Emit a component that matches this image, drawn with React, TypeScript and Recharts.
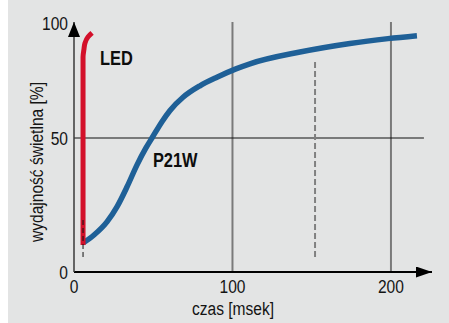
import React from "react";
import {
  LineChart,
  Line,
  XAxis,
  YAxis,
  ReferenceLine,
  ReferenceDot,
  Label,
} from "recharts";

// ---- data ----
const xTicks = [0, 100, 200];
const yTicks = [0, 50];
const yTopTickLabel = "100";
const xTitle = "czas [msek]";
const yTitle = "wydajność świetlna [%]";

const ledTime = [5.7, 5.7, 6.3, 6.9, 8.8, 11.4];
const ledEff = [10.1, 80.2, 83.2, 85.4, 87.7, 89.2];

const p21wTime = [
  5.7, 12.6, 20.8, 27.1, 33.4, 39.7, 45.4, 49.2, 55.5, 60.6, 68.8, 79.5, 90.2,
  102.2, 111.0, 142.6, 174.1, 198.1, 216.4,
];
const p21wEff = [
  10.8, 13.8, 18.7, 24.3, 31.7, 39.9, 46.3, 50.0, 56.1, 60.3, 65.2, 69.5, 72.7,
  75.8, 77.7, 82.1, 85.3, 87.1, 88.2,
];

const startMarkTime = [5.7, 5.7];
const startMarkEff = [5.6, 19.4];
const midMarkTime = [152.1, 152.1];
const midMarkEff = [5.6, 79.1];

const gridTimes = [100, 200];
const halfLevel = 50;
const halfLineEnd = 220.8;
const xMax = 225.9;
const yMax = 93.3;

const ledLabel = { t: 16.4, e: 79.9, text: "LED" };
const p21wLabel = { t: 49.8, e: 41.8, text: "P21W" };

const toRows = (ts: number[], es: number[]) =>
  ts.map((t, i) => ({ t, e: es[i] }));

const ledData = toRows(ledTime, ledEff);
const p21wData = toRows(p21wTime, p21wEff);
const startMarkData = toRows(startMarkTime, startMarkEff);
const midMarkData = toRows(midMarkTime, midMarkEff);

// Liberation Sans squeezed horizontally ~ Liberation Sans Narrow
const FONT = "'Liberation Sans', Arial, sans-serif";
const NARROW = 0.82;
const TEXT = "#141414";

const XTick = (props: any) => {
  const { x, y, payload } = props;
  return (
    <text
      transform={`translate(${x},${y}) scale(${NARROW},1)`}
      textAnchor="middle"
      dy="0.71em"
      fontFamily={FONT}
      fontSize={19}
      fill={TEXT}
    >
      {payload.value}
    </text>
  );
};

const YTick = (props: any) => {
  const { x, y, payload } = props;
  return (
    <text
      transform={`translate(${x},${y}) scale(${NARROW},1)`}
      textAnchor="end"
      dy="0.355em"
      fontFamily={FONT}
      fontSize={19}
      fill={TEXT}
    >
      {payload.value}
    </text>
  );
};

const seriesLabel = (text: string) => (props: any) => {
  const vb = props.viewBox || {};
  return (
    <text
      transform={`translate(${vb.x},${vb.y}) scale(${NARROW},1)`}
      textAnchor="start"
      dy="0.355em"
      fontFamily={FONT}
      fontWeight="bold"
      fontSize={20}
      fill="#0d0d0d"
    >
      {text}
    </text>
  );
};

export default function App() {
  return (
    <div
      style={{
        position: "absolute",
        left: 0,
        top: 0,
        width: 449,
        height: 323,
        background: "#ffffff",
      }}
    >
      <div
        style={{
          position: "absolute",
          left: 8,
          top: 0,
          right: 0,
          bottom: 0,
          background: "#e3e4e4",
        }}
      />
      <div style={{ position: "absolute", left: 0, top: 0 }}>
        <LineChart
          width={449}
          height={323}
          margin={{ top: 22, right: 17, bottom: 21, left: 0 }}
        >
          <defs>
            <marker
              id="arrowX"
              markerUnits="userSpaceOnUse"
              markerWidth={16}
              markerHeight={11}
              viewBox="0 0 16 11"
              refX={16}
              refY={5.5}
              orient="auto"
            >
              <path d="M0,0 L16,5.5 L0,11 z" fill="#000" />
            </marker>
            <marker
              id="arrowY"
              markerUnits="userSpaceOnUse"
              markerWidth={15}
              markerHeight={12}
              viewBox="0 0 15 12"
              refX={15}
              refY={6}
              orient="auto-start-reverse"
            >
              <path d="M0,0 L15,6 L0,12 z" fill="#000" />
            </marker>
          </defs>
          <XAxis
            type="number"
            dataKey="t"
            domain={[0, xMax]}
            ticks={xTicks}
            interval={0}
            height={30}
            tickLine={false}
            tickSize={0}
            tickMargin={8}
            tick={XTick}
            axisLine={{
              stroke: "#000",
              strokeWidth: 2,
              markerEnd: "url(#arrowX)",
            }}
          >
            <Label
              content={(props: any) => {
                const vb = props.viewBox || {};
                return (
                  <text
                    transform={`translate(${vb.x + 159},${vb.y + 43}) scale(${NARROW},1)`}
                    textAnchor="middle"
                    fontFamily={FONT}
                    fontSize={19}
                    fill={TEXT}
                  >
                    {xTitle}
                  </text>
                );
              }}
            />
          </XAxis>
          <YAxis
            type="number"
            dataKey="e"
            domain={[0, yMax]}
            ticks={yTicks}
            interval={0}
            width={74}
            tickLine={false}
            tickSize={0}
            tickMargin={6}
            tick={YTick}
            axisLine={{
              stroke: "#3a3a3a",
              strokeWidth: 1.5,
              markerStart: "url(#arrowY)",
            }}
          >
            <Label
              content={(props: any) => {
                const vb = props.viewBox || {};
                return (
                  <text
                    transform={`translate(${vb.x + vb.width - 6},${vb.y + 1}) scale(${NARROW},1)`}
                    textAnchor="end"
                    dy="0.355em"
                    fontFamily={FONT}
                    fontSize={19}
                    fill={TEXT}
                  >
                    {yTopTickLabel}
                  </text>
                );
              }}
            />
            <Label
              content={(props: any) => {
                const vb = props.viewBox || {};
                const cx = vb.x + 37;
                const cy = vb.y + vb.height / 2 + 15;
                return (
                  <text
                    transform={`translate(${cx},${cy}) rotate(-90) scale(${NARROW},1)`}
                    textAnchor="middle"
                    dy="0.3em"
                    fontFamily={FONT}
                    fontSize={19}
                    fill={TEXT}
                  >
                    {yTitle}
                  </text>
                );
              }}
            />
          </YAxis>

          {gridTimes.map((g) => (
            <ReferenceLine
              key={g}
              x={g}
              stroke="#7a7a7a"
              strokeWidth={2}
            />
          ))}
          <ReferenceLine
            segment={[
              { x: 0, y: halfLevel },
              { x: halfLineEnd, y: halfLevel },
            ]}
            stroke="#111"
            strokeWidth={1.2}
          />

          <Line
            data={midMarkData}
            dataKey="e"
            type="linear"
            stroke="#808080"
            strokeWidth={2}
            strokeDasharray="6 3"
            dot={false}
            activeDot={false}
            isAnimationActive={false}
          />
          <Line
            data={p21wData}
            dataKey="e"
            type="monotone"
            stroke="#1f6097"
            strokeWidth={5.5}
            dot={false}
            activeDot={false}
            isAnimationActive={false}
          />
          <Line
            data={ledData}
            dataKey="e"
            type="monotoneY"
            stroke="#d3102a"
            strokeWidth={5}
            dot={false}
            activeDot={false}
            isAnimationActive={false}
          />
          <Line
            data={startMarkData}
            dataKey="e"
            type="linear"
            stroke="#111"
            strokeWidth={1}
            strokeDasharray="5 3"
            dot={false}
            activeDot={false}
            isAnimationActive={false}
          />

          <ReferenceDot
            x={ledLabel.t}
            y={ledLabel.e}
            r={0}
            fill="none"
            stroke="none"
            label={seriesLabel(ledLabel.text)}
          />
          <ReferenceDot
            x={p21wLabel.t}
            y={p21wLabel.e}
            r={0}
            fill="none"
            stroke="none"
            label={seriesLabel(p21wLabel.text)}
          />
        </LineChart>
      </div>
    </div>
  );
}
